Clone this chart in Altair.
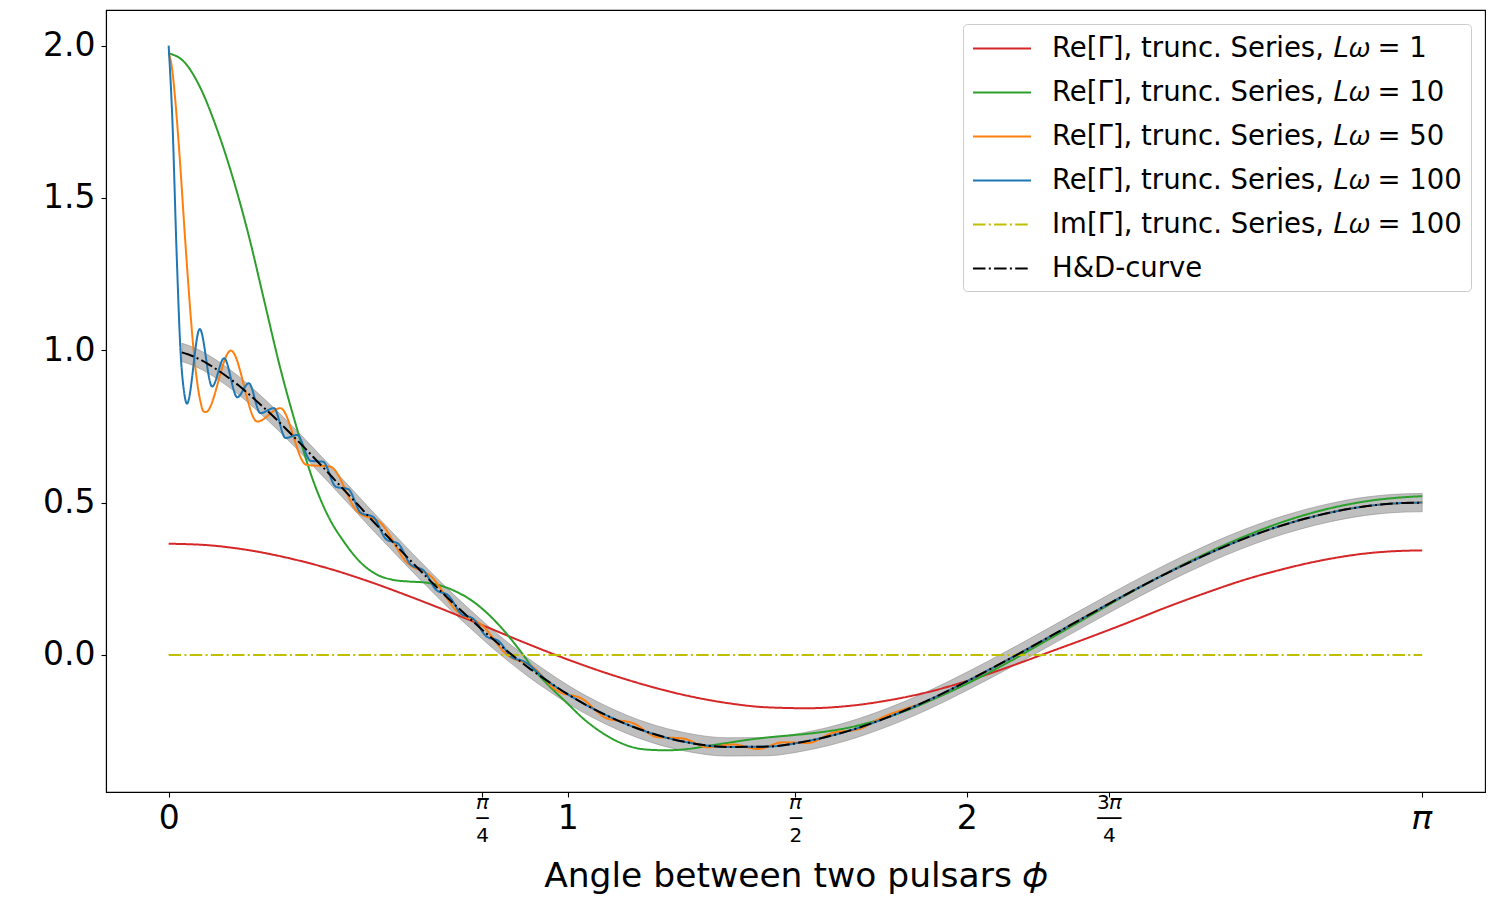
import math
import pandas as pd
import altair as alt

PI = math.pi
FONT = "DejaVu Sans"

# ---------------- data ----------------
series_names = [
    "Re[Γ], trunc. Series, 𝐿𝜔 = 1",
    "Re[Γ], trunc. Series, 𝐿𝜔 = 10",
    "Re[Γ], trunc. Series, 𝐿𝜔 = 50",
    "Re[Γ], trunc. Series, 𝐿𝜔 = 100",
    "Im[Γ], trunc. Series, 𝐿𝜔 = 100",
    "H&D-curve",
]
series_colors = ["#d62728", "#2ca02c", "#ff7f0e", "#1f77b4", "#bfbf00", "#000000"]

red_phi = [0.0, 0.1, 0.2, 0.3, 0.4, 0.5, 0.6, 0.7, 0.8, 0.9, 1.0, 1.1, 1.2, 1.3, 1.4, 1.5,
           1.6, 1.7, 1.8, 1.9, 2.0, 2.1, 2.2, 2.3, 2.4, 2.5, 2.6, 2.7, 2.8, 2.9, 3.0, 3.1, PI]
red_val = [0.365, 0.360, 0.344, 0.318, 0.284, 0.242, 0.194, 0.143, 0.090, 0.036, -0.015,
           -0.061, -0.101, -0.134, -0.158, -0.172, -0.175, -0.168, -0.150, -0.123, -0.086,
           -0.042, 0.006, 0.054, 0.104, 0.156, 0.204, 0.248, 0.284, 0.313, 0.333, 0.342, 0.343]

green_phi = [0.0, 0.04, 0.08, 0.12, 0.16, 0.20, 0.24, 0.28, 0.32, 0.36, 0.40, 0.44, 0.48,
             0.52, 0.56, 0.60, 0.64, 0.68, 0.72, 0.76, 0.80, 0.84, 0.88, 0.92, 0.96, 1.00,
             1.04, 1.08, 1.12, 1.16, 1.20, 1.25, 1.30, 1.35, 1.40, 1.45, 1.50, 1.55, 1.60,
             1.65, 1.70, 1.75, 1.80, 1.85, 1.90, 2.0, 2.1, 2.2, 2.3, 2.4, 2.5, 2.6, 2.7,
             2.8, 2.9, 3.0, 3.1, PI]
green_val = [1.975, 1.945, 1.86, 1.73, 1.57, 1.38, 1.16, 0.94, 0.75, 0.58, 0.455, 0.37,
             0.305, 0.265, 0.247, 0.241, 0.238, 0.228, 0.208, 0.178, 0.135, 0.080, 0.015,
             -0.055, -0.110, -0.160, -0.210, -0.250, -0.281, -0.302, -0.311, -0.313, -0.309,
             -0.299, -0.289, -0.279, -0.271, -0.265, -0.259, -0.251, -0.240, -0.224, -0.205,
             -0.182, -0.155, -0.095, -0.027, 0.047, 0.122, 0.197, 0.268, 0.333, 0.391,
             0.440, 0.478, 0.504, 0.518, 0.521]

orange_phi = [0.0, 0.008, 0.016, 0.024, 0.032, 0.040, 0.048, 0.056, 0.064, 0.072, 0.080,
              0.087, 0.093, 0.156, 0.222, 0.280, 0.345, 0.405, 0.472, 0.533, 0.596, 0.659,
              0.722, 0.785, 0.848, 0.911, 0.973, 1.036, 1.099, 1.162, 1.225, 1.288, 1.351,
              1.414, 1.476, 1.539, 1.602, 1.665, 1.728, 1.79, 1.9, 2.0, 2.1, 2.2, 2.3, 2.4,
              2.5, 2.6, 2.7, 2.8, 2.9, 3.0, 3.1, PI]
orange_val = [1.975, 1.93, 1.83, 1.70, 1.55, 1.39, 1.24, 1.10, 0.98, 0.89, 0.83, 0.80, 0.797,
              0.999, 0.766, 0.810, 0.624, 0.618, 0.472, 0.431, 0.305, 0.256, 0.144, 0.098,
              0.0005, -0.038, -0.117, -0.144, -0.209, -0.223, -0.270, -0.274, -0.303, -0.294,
              -0.309, -0.287, -0.289, -0.2555, -0.2445, -0.2044, -0.151, -0.087, -0.018,
              0.054, 0.127, 0.199, 0.267, 0.329, 0.384, 0.429, 0.464, 0.488, 0.499, 0.500]

blue_phi = [0.0, 0.0093, 0.020, 0.030, 0.038, 0.046, 0.078, 0.109, 0.139, 0.172, 0.201,
            0.230, 0.264, 0.293, 0.322, 0.356, 0.387, 0.419, 0.450, 0.482, 0.513, 0.545,
            0.576, 0.607, 0.639, 0.670, 0.702, 0.733, 0.764, 0.796, 0.827, 0.859, 0.890,
            0.95, 1.0, 1.1, 1.2, 1.3, 1.4, 1.5, 1.6, 1.7, 1.8, 1.9, 2.0, 2.1, 2.2, 2.3,
            2.4, 2.5, 2.6, 2.7, 2.8, 2.9, 3.0, 3.1, PI]
blue_val = [2.0, 1.757, 1.319, 0.991, 0.870, 0.825, 1.07, 0.881, 0.974, 0.846, 0.892, 0.794,
            0.810, 0.712, 0.722, 0.637, 0.634, 0.552, 0.544, 0.466, 0.453, 0.380, 0.364,
            0.296, 0.277, 0.214, 0.194, 0.135, 0.118, 0.061, 0.0455, -0.0066, -0.021,
            -0.086, -0.129, -0.200, -0.253, -0.287, -0.302, -0.301, -0.283, -0.251, -0.206,
            -0.151, -0.087, -0.018, 0.054, 0.127, 0.199, 0.267, 0.329, 0.384, 0.429, 0.464,
            0.488, 0.499, 0.500]

im_phi = [0.0, PI]
im_val = [0.0, 0.0]

hd_phi = [0.033, 0.05, 0.075, 0.1, 0.125, 0.15, 0.175, 0.2, 0.225, 0.25, 0.275, 0.3, 0.325,
          0.35, 0.375, 0.4, 0.425, 0.45, 0.475, 0.5, 0.55, 0.6, 0.65, 0.7, 0.75, 0.8, 0.85,
          0.9, 0.95, 1.0, 1.1, 1.2, 1.3, 1.4, 1.5, 1.6, 1.7, 1.8, 1.9, 2.0, 2.1, 2.2, 2.3,
          2.4, 2.5, 2.6, 2.7, 2.8, 2.9, 3.0, 3.1, PI]
hd_val = [0.993, 0.986, 0.972, 0.954, 0.933, 0.910, 0.885, 0.857, 0.828, 0.798, 0.767, 0.734,
          0.701, 0.667, 0.632, 0.598, 0.562, 0.527, 0.492, 0.456, 0.387, 0.318, 0.251, 0.186,
          0.125, 0.066, 0.011, -0.040, -0.086, -0.129, -0.200, -0.253, -0.287, -0.302,
          -0.301, -0.283, -0.251, -0.206, -0.151, -0.087, -0.018, 0.054, 0.127, 0.199,
          0.267, 0.329, 0.384, 0.429, 0.464, 0.488, 0.499, 0.500]
band_halfwidth = 0.03

x_tick_values = [0.0, PI / 4, 1.0, PI / 2, 2.0, 3 * PI / 4, PI]
y_tick_values = [0.0, 0.5, 1.0, 1.5, 2.0]

# ---------------- build tables ----------------
curves = [
    (red_phi, red_val),
    (green_phi, green_val),
    (orange_phi, orange_val),
    (blue_phi, blue_val),
    (im_phi, im_val),
    (hd_phi, hd_val),
]
frames = [pd.DataFrame({"phi": p, "value": v, "series": n})
          for (p, v), n in zip(curves, series_names)]
band_df = pd.DataFrame({"phi": hd_phi,
                        "lo": [v - band_halfwidth for v in hd_val],
                        "hi": [v + band_halfwidth for v in hd_val]})

dash_solid = [1, 0]
dash_dot = [12.5, 3.3, 2, 3.3]
series_dashes = [dash_solid, dash_solid, dash_solid, dash_solid, dash_dot, dash_dot]

# ---------------- encodings ----------------
big_test = ("datum.value < 0.4 || (datum.value > 0.9 && datum.value < 1.2) || "
            "(datum.value > 1.8 && datum.value < 2.2) || datum.value > 3")
label_expr = ("datum.value < 0.4 ? ['','0'] : datum.value < 0.9 ? ['𝜋','─','4'] : "
              "datum.value < 1.2 ? ['','1'] : datum.value < 1.8 ? ['𝜋','─','2'] : "
              "datum.value < 2.2 ? ['','2'] : datum.value < 3 ? ['3𝜋','──','4'] : ['','𝜋']")

x_axis = alt.Axis(
    values=x_tick_values, labelExpr=label_expr, grid=False,
    labelFontSize={"condition": {"test": big_test, "value": 33}, "value": 20},
    labelBaseline="middle", labelLineHeight=16.5, labelPadding=5, tickSize=5,
    labelFlush=False, labelOverlap=False, labelBound=False,
    title="Angle between two pulsars 𝜙", titleFontSize=34.5, titleFontWeight="normal",
    titleY=94, titleBaseline="alphabetic",
)
y_axis = alt.Axis(values=y_tick_values, format=".1f", grid=False, labelFontSize=33,
                  labelPadding=6, tickSize=5, title="")

x_scale = alt.Scale(domain=[-0.157, 3.299], nice=False, zero=False)
y_scale = alt.Scale(domain=[-0.45, 2.117], nice=False, zero=False)

legend = alt.Legend(
    title=None, orient="top-right", offset=14, fillColor="white", strokeColor="#cccccc",
    cornerRadius=4, padding=9, labelFont=FONT, labelFontSize=27.5, labelLimit=0,
    symbolType="M-1,0H3", symbolSize=841, symbolStrokeWidth=2, labelOffset=49,
    rowPadding=15,
)
color_enc = alt.Color("series:N", scale=alt.Scale(domain=series_names, range=series_colors),
                      legend=legend)
dash_enc = alt.StrokeDash("series:N", scale=alt.Scale(domain=series_names, range=series_dashes),
                          legend=legend)

band = alt.Chart(band_df).mark_area(
    color="gray", fillOpacity=0.5, stroke="gray", strokeOpacity=0.5, strokeWidth=1,
    interpolate="monotone",
).encode(
    x=alt.X("phi:Q", scale=x_scale, axis=x_axis),
    y=alt.Y("lo:Q", scale=y_scale, axis=y_axis),
    y2="hi:Q",
)

layers = [band]
for df in frames:
    layers.append(
        alt.Chart(df).mark_line(strokeWidth=2, interpolate="monotone").encode(
            x=alt.X("phi:Q", scale=x_scale, axis=x_axis),
            y=alt.Y("value:Q", scale=y_scale, axis=y_axis),
            color=color_enc,
            strokeDash=dash_enc,
        )
    )

chart = alt.layer(*layers).properties(
    width=1379, height=782,
    padding={"left": 98, "top": 2, "right": 7, "bottom": 106},
    autosize=alt.AutoSizeParams(type="none"),
).configure(font=FONT).configure_view(
    stroke="black", strokeWidth=1.1
).configure_axis(
    labelFont=FONT, titleFont=FONT, labelColor="black", titleColor="black",
    domainColor="black", tickColor="black", domainWidth=1.1, tickWidth=1.1,
)

chart.save("out.html", embed_options={"renderer": "svg", "actions": False})
